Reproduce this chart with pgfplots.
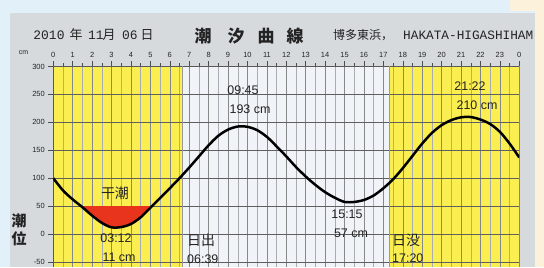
\documentclass[border=0pt]{standalone}
\usepackage{fontspec}
\setmainfont{Liberation Sans}
\newfontfamily\cjk{Noto Sans CJK JP}
\newfontfamily\mono{Liberation Mono}
\usepackage{pgfplots}
\usepackage{pgfplotstable}
\pgfplotsset{compat=1.18}
\definecolor{bgblue}{RGB}{226,240,250}
\definecolor{panel}{RGB}{214,218,221}
\definecolor{cream}{RGB}{252,241,218}
\definecolor{yel}{RGB}{250,238,80}
\definecolor{dayw}{RGB}{240,243,248}
\definecolor{tidered}{RGB}{232,52,28}
\definecolor{txt}{RGB}{35,35,35}
\definecolor{gridmaj}{RGB}{135,137,137}
\definecolor{gridmin}{RGB}{170,173,176}
\definecolor{gridy}{RGB}{95,95,95}
\pgfplotstableread{
h cm
0 100
0.5 78
1.0 62
1.5 48
2.0 33
2.5 20
3.0 12
3.5 12.5
4.0 18
4.5 30
5.0 47
5.5 64.5
6.0 82
6.5 100
7.0 119
7.5 139
8.0 159
8.5 176
9.0 187
9.5 192.5
10.0 192
10.5 186
11.0 174
11.5 157
12.0 139
12.5 120
13.0 103
13.5 88
14.0 75
14.5 65
15.0 57.5
15.5 57.5
16.0 61
16.5 69
17.0 82
17.5 98
18.0 118
18.5 140
19.0 162
19.5 181
20.0 195
20.5 204
21.0 209
21.5 209.5
22.0 205
22.5 197
23.0 183
23.5 162
24.0 137
}\tide
\begin{document}
\begin{tikzpicture}
\fill[bgblue] (0bp,0bp) rectangle (544bp,267bp);
\fill[panel] (10bp,0bp) rectangle (535bp,254bp);
\fill[yel] (53.3bp,0bp) rectangle (182.4bp,200.5bp);
\fill[dayw] (182.4bp,0bp) rectangle (389.9bp,200.5bp);
\fill[yel] (389.9bp,0bp) rectangle (519.3bp,200.5bp);
\begin{axis}[
  at={(53.3bp,0bp)}, anchor=south west,
  scale only axis, width=466bp, height=200.5bp,
  xmin=0, xmax=24, ymin=-59, ymax=300,
  axis x line*=top, axis y line*=left,
  axis line style={-, draw=gray!70!black, line width=0.6pt},
  xtick={0,1,...,24},
  xticklabels={0,1,2,3,4,5,6,7,8,9,10,11,12,13,14,15,16,17,18,19,20,21,22,23,0},
  minor x tick num=1,
  ytick={-50,0,50,100,150,200,250,300},
  yticklabels={-50,0,50,100,150,200,250,300},
  tick align=outside,
  major tick length=5bp, minor tick length=3bp,
  tick style={draw=gray!60!black, line width=0.5pt},
  xmajorgrids=true, xminorgrids=true, ymajorgrids=true,
  major grid style={draw=gridmaj, line width=0.55pt},
  minor grid style={draw=gridmin, line width=0.5pt},
  y grid style={draw=gridy, line width=0.6pt},
  xticklabel style={font=\fontsize{7.5}{8}\selectfont, text=txt},
  yticklabel style={font=\fontsize{7.5}{8}\selectfont, text=txt},
]
\addplot[gray!80, line width=0.8pt] coordinates {(6.65,-59) (6.65,300)};
\addplot[gray!80, line width=0.8pt] coordinates {(17.333,-59) (17.333,300)};
\addplot[fill=tidered, draw=none, smooth] coordinates {(1.43,50) (1.5,48) (2.0,33) (2.5,20) (3.0,12) (3.5,12.5) (4.0,18) (4.5,30) (5.0,47) (5.08,50)} -- cycle;
\addplot[black, line width=2.5pt, smooth] table[x=h,y=cm] {\tide};
\end{axis}
\begin{scope}[text=txt, x=1bp, y=1bp]
\node[font=\mono\fontsize{13}{13}\selectfont] at (49,232) {2010};
\node[font=\cjk\fontsize{13}{13}\selectfont] at (76,232) {年};
\node[font=\mono\fontsize{13}{13}\selectfont] at (96,232) {11};
\node[font=\cjk\fontsize{13}{13}\selectfont] at (109,232) {月};
\node[font=\mono\fontsize{13}{13}\selectfont] at (130,232) {06};
\node[font=\cjk\fontsize{13}{13}\selectfont] at (147,232) {日};
\node[font=\cjk\bfseries\fontsize{17}{17}\selectfont] at (203,231) {潮};
\node[font=\cjk\bfseries\fontsize{17}{17}\selectfont] at (236,231) {汐};
\node[font=\cjk\bfseries\fontsize{17}{17}\selectfont] at (266,231) {曲};
\node[font=\cjk\bfseries\fontsize{17}{17}\selectfont] at (295,231) {線};
\node[font=\cjk\fontsize{12}{12}\selectfont, anchor=west, inner sep=0pt] at (333,232) {博多東浜，};
\node[font=\mono\fontsize{12.8}{13}\selectfont, anchor=west, inner sep=0pt] at (403,232) {HAKATA-HIGASHIHAM};
\node[font=\fontsize{7}{7}\selectfont] at (23.5,214) {cm};
\node[font=\cjk\bfseries\fontsize{15}{15}\selectfont] at (19,46) {潮};
\node[font=\cjk\bfseries\fontsize{15}{15}\selectfont] at (19,28) {位};
\node[font=\fontsize{12.5}{13}\selectfont] at (243,177) {09:45};
\node[font=\fontsize{12.5}{13}\selectfont] at (250,158) {193 cm};
\node[font=\fontsize{12.5}{13}\selectfont] at (347,53) {15:15};
\node[font=\fontsize{12.5}{13}\selectfont] at (351,34) {57 cm};
\node[font=\fontsize{12.5}{13}\selectfont] at (470,181) {21:22};
\node[font=\fontsize{12.5}{13}\selectfont] at (477,162) {210 cm};
\node[font=\cjk\fontsize{14}{14}\selectfont] at (115,74) {干潮};
\node[font=\fontsize{12.5}{13}\selectfont] at (116,29) {03:12};
\node[font=\fontsize{12.5}{13}\selectfont] at (119,10) {11 cm};
\node[font=\cjk\fontsize{14}{14}\selectfont, anchor=west, inner sep=0pt] at (187,27) {日出};
\node[font=\fontsize{12.5}{13}\selectfont, anchor=west, inner sep=0pt] at (187,8) {06:39};
\node[font=\cjk\fontsize{14}{14}\selectfont, anchor=west, inner sep=0pt] at (392,27) {日没};
\node[font=\fontsize{12.5}{13}\selectfont, anchor=west, inner sep=0pt] at (392,9) {17:20};
\fill[cream] (535,0) rectangle (544,267);
\fill[cream] (510,256) rectangle (544,267);
\end{scope}
\end{tikzpicture}
\end{document}
